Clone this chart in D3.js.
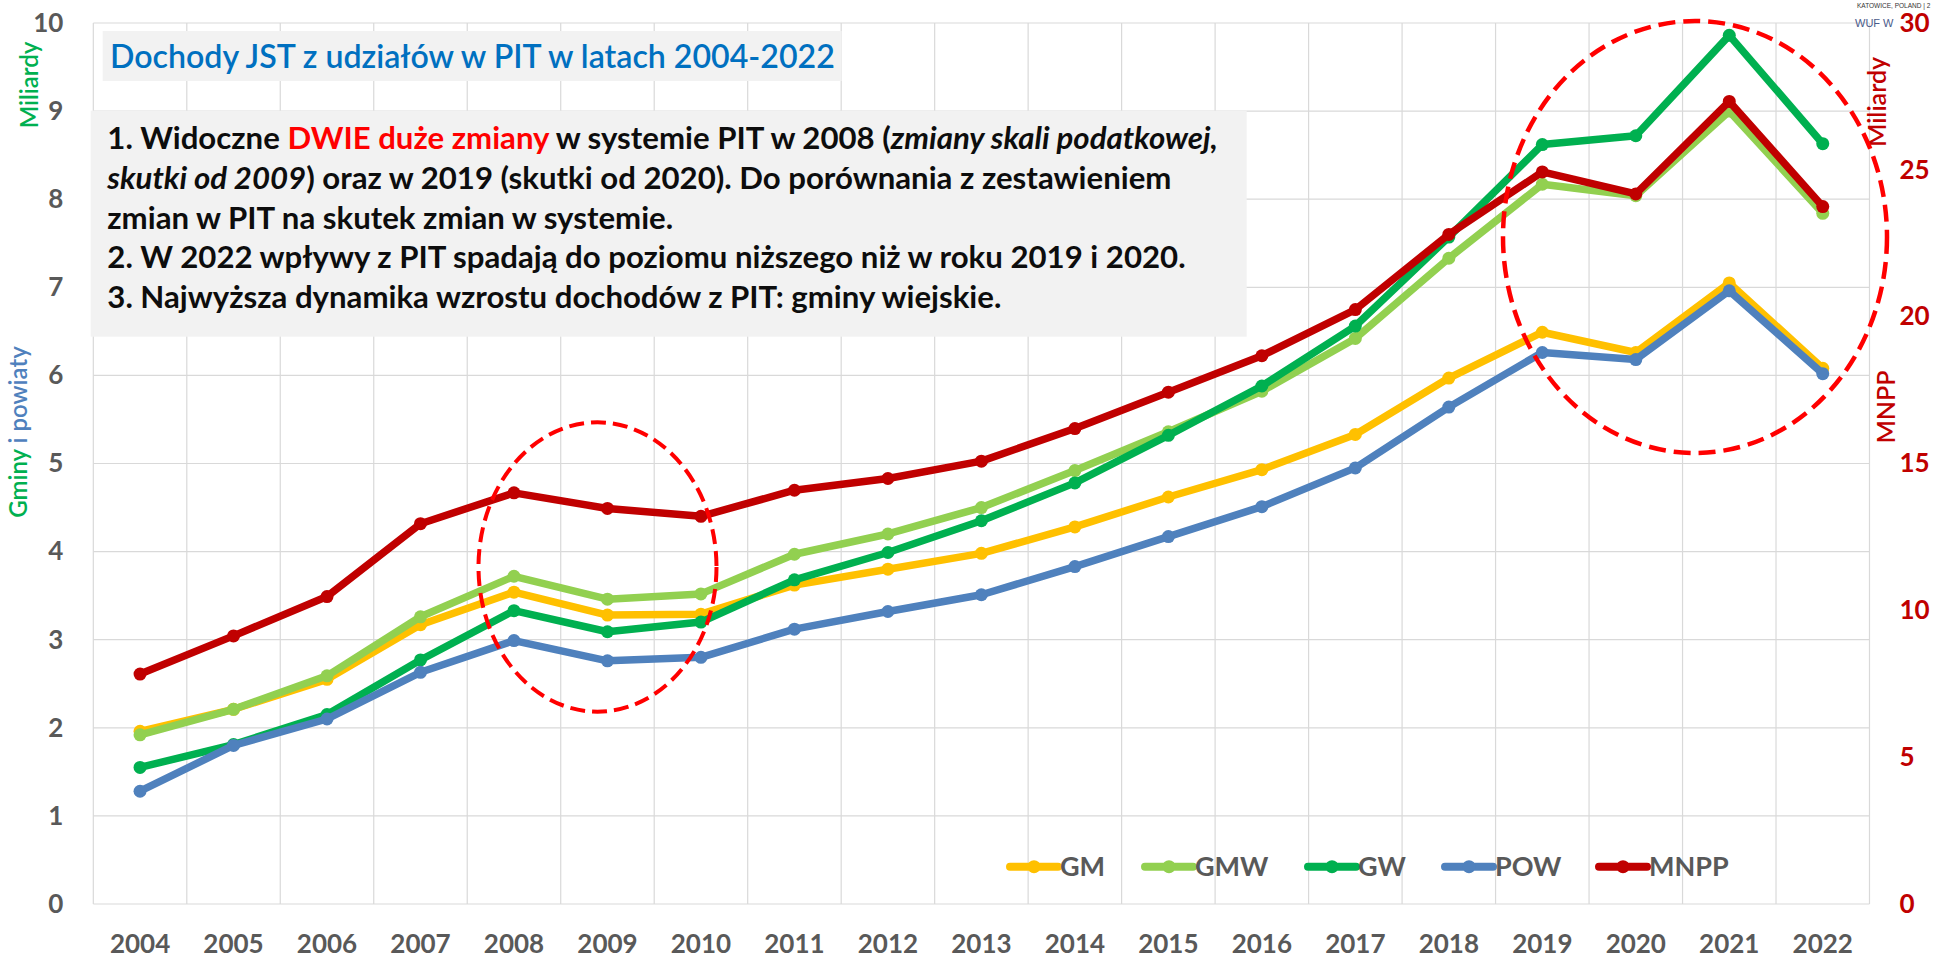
<!DOCTYPE html>
<html>
<head>
<meta charset="utf-8">
<script src="https://cdn.jsdelivr.net/npm/d3@7"></script>
<style>
  html, body { margin: 0; padding: 0; background: #fff; }
  svg { display: block; font-family: Lato, "Open Sans", sans-serif; }
</style>
</head>
<body>
<div id="chart"></div>
<script>
// data
const years = ["2004","2005","2006","2007","2008","2009","2010","2011","2012","2013",
               "2014","2015","2016","2017","2018","2019","2020","2021","2022"];
const gm   = [1.96, 2.21, 2.55, 3.17, 3.54, 3.28, 3.29, 3.62, 3.80, 3.98, 4.28, 4.62, 4.93, 5.33, 5.97, 6.49, 6.26, 7.05, 6.08];
const gmw  = [1.92, 2.21, 2.59, 3.26, 3.72, 3.46, 3.52, 3.97, 4.20, 4.50, 4.92, 5.36, 5.82, 6.42, 7.33, 8.17, 8.04, 9.00, 7.84];
const gw   = [1.55, 1.81, 2.15, 2.77, 3.33, 3.09, 3.20, 3.68, 3.99, 4.35, 4.78, 5.32, 5.88, 6.56, 7.57, 8.62, 8.72, 9.86, 8.63];
const pow  = [1.28, 1.80, 2.10, 2.63, 2.99, 2.76, 2.80, 3.12, 3.32, 3.51, 3.83, 4.17, 4.51, 4.95, 5.64, 6.26, 6.18, 6.96, 6.02];
const mnpp = [7.83, 9.13, 10.47, 12.95, 14.00, 13.47, 13.20, 14.09, 14.49, 15.08, 16.19, 17.43, 18.67, 20.24, 22.80, 24.93, 24.18, 27.33, 23.75];
const seriesNames  = ["GM", "GMW", "GW", "POW", "MNPP"];
const seriesColors = ["#FFC000", "#92D050", "#00B050", "#4F81BD", "#C00000"];
const leftTicks  = [0,1,2,3,4,5,6,7,8,9,10];
const rightTicks = [0,5,10,15,20,25,30];

const W = 1934, H = 960;
const svg = d3.select("#chart").append("svg")
  .attr("width", W).attr("height", H);

const x = d3.scaleBand().domain(years).range([93.3, 1869.5]).padding(0);
const yL = d3.scaleLinear().domain([0, 10]).range([904, 23]);
const yR = d3.scaleLinear().domain([0, 30]).range([904, 23]);

const gray = "#595959";

// grid
const grid = svg.append("g");
grid.selectAll("line.h").data(leftTicks).join("line")
  .attr("x1", x.range()[0]).attr("x2", x.range()[1])
  .attr("y1", d => yL(d)).attr("y2", d => yL(d))
  .attr("stroke", "#D9D9D9").attr("stroke-width", 1.2);
const vlines = years.map(d => x(d)).concat([x.range()[1]]);
grid.selectAll("line.v").data(vlines).join("line")
  .attr("x1", d => d).attr("x2", d => d)
  .attr("y1", yL(10)).attr("y2", yL(0))
  .attr("stroke", "#D9D9D9").attr("stroke-width", 1.2);

// axes
const axL = svg.append("g").attr("transform", `translate(${x.range()[0]},0)`)
  .call(d3.axisLeft(yL).tickValues(leftTicks).tickSize(0).tickPadding(30));
axL.select(".domain").remove();
axL.selectAll("text").attr("font-family", "Lato").attr("font-size", 26)
  .attr("font-weight", 700).attr("fill", gray);

const axR = svg.append("g").attr("transform", `translate(${x.range()[1]},0)`)
  .call(d3.axisRight(yR).tickValues(rightTicks).tickSize(0).tickPadding(30));
axR.select(".domain").remove();
axR.selectAll("text").attr("font-family", "Lato").attr("font-size", 26)
  .attr("font-weight", 700).attr("fill", "#C00000");

const axB = svg.append("g").attr("transform", `translate(0,${yL(0)})`)
  .call(d3.axisBottom(x).tickSize(0).tickPadding(31));
axB.select(".domain").remove();
axB.selectAll("text").attr("font-family", "Lato").attr("font-size", 26)
  .attr("font-weight", 700).attr("fill", gray);

// axis titles
svg.append("text").attr("transform", "translate(38,85) rotate(-90)")
  .attr("text-anchor", "middle").attr("font-size", 24).attr("font-weight", 600)
  .attr("fill", "#00B050").text("Miliardy");
const t2 = svg.append("text").attr("transform", "translate(27,432) rotate(-90)")
  .attr("text-anchor", "middle").attr("font-size", 24).attr("font-weight", 600);
t2.append("tspan").attr("fill", "#00B050").text("Gminy ");
t2.append("tspan").attr("fill", "#4F81BD").text("i powiaty");
svg.append("text").attr("transform", "translate(1886,102) rotate(-90)")
  .attr("text-anchor", "middle").attr("font-size", 25).attr("font-weight", 600)
  .attr("fill", "#C00000").text("Miliardy");
svg.append("text").attr("transform", "translate(1895,407) rotate(-90)")
  .attr("text-anchor", "middle").attr("font-size", 25).attr("font-weight", 600)
  .attr("fill", "#C00000").text("MNPP");

// series
const series = [gm, gmw, gw, pow, mnpp];
series.forEach((vals, i) => {
  const ys = i === 4 ? yR : yL;
  const pts = vals.map((v, j) => [x(years[j]) + x.bandwidth() / 2, ys(v)]);
  const g = svg.append("g");
  g.append("path").datum(pts)
    .attr("fill", "none").attr("stroke", seriesColors[i])
    .attr("stroke-width", 7.5).attr("stroke-linejoin", "round").attr("stroke-linecap", "round")
    .attr("d", d3.line());
  g.selectAll("circle").data(pts).join("circle")
    .attr("cx", d => d[0]).attr("cy", d => d[1]).attr("r", 6.5)
    .attr("fill", seriesColors[i]);
});

// legend
const legendX = [1010, 1145, 1308, 1445, 1599];
const legY = 866.7;
seriesNames.forEach((name, i) => {
  const g = svg.append("g").attr("transform", `translate(${legendX[i]},${legY})`);
  g.append("line").attr("x1", 0).attr("x2", 48)
    .attr("stroke", seriesColors[i]).attr("stroke-width", 8).attr("stroke-linecap", "round");
  g.append("circle").attr("cx", 24).attr("r", 6.5).attr("fill", seriesColors[i]);
  g.append("text").attr("x", 50).attr("dy", "0.36em")
    .attr("font-size", 27).attr("font-weight", 700).attr("fill", gray)
    .text(name);
});

// title box
svg.append("rect").attr("x", 102.7).attr("y", 31).attr("width", 739).attr("height", 50)
  .attr("fill", "#F2F2F2");
const title = svg.append("text").attr("x", 110).attr("y", 67.5)
  .attr("font-size", 32).attr("font-weight", 600).attr("fill", "#0070C0")
  .text("Dochody JST z udziałów w PIT w latach 2004-2022");
fitWidth(title, 725);

// note box
svg.append("rect").attr("x", 90.7).attr("y", 110.7).attr("width", 1156).attr("height", 226)
  .attr("fill", "#F2F2F2");
const lines = [
  [["1. Widoczne ", null], ["DWIE duże zmiany", "red"], [" w systemie PIT w 2008 (", null], ["zmiany skali podatkowej,", "it"]],
  [["skutki od 2009", "it"], [") oraz w 2019 (skutki od 2020). Do porównania z zestawieniem", null]],
  [["zmian w PIT na skutek zmian w systemie.", null]],
  [["2. W 2022 wpływy z PIT spadają do poziomu niższego niż w roku 2019 i 2020.", null]],
  [["3. Najwyższa dynamika wzrostu dochodów z PIT: gminy wiejskie.", null]]
];
const note = svg.append("g").attr("font-size", 27).attr("font-weight", 700);
const noteTexts = lines.map((parts, i) => {
  const t = note.append("text").attr("x", 107.3).attr("y", 149 + i * 39.8).attr("fill", "#0D0D0D");
  parts.forEach(([s, st]) => {
    const sp = t.append("tspan").text(s);
    if (st === "red") sp.attr("fill", "#FF0000");
    if (st === "it") sp.attr("font-style", "italic");
  });
  return t;
});
const l1 = noteTexts[0].node().getComputedTextLength();
note.attr("font-size", 27 * 1111 / l1);

// ellipses
svg.append("ellipse").attr("cx", 597.5).attr("cy", 567).attr("rx", 119).attr("ry", 144.7)
  .attr("fill", "none").attr("stroke", "#FF0000").attr("stroke-width", 4)
  .attr("stroke-dasharray", "15,7");
svg.append("ellipse").attr("cx", 1695).attr("cy", 237).attr("rx", 192).attr("ry", 216)
  .attr("fill", "none").attr("stroke", "#FF0000").attr("stroke-width", 4.5)
  .attr("stroke-dasharray", "17,8");

// tiny watermark top right
svg.append("text").attr("x", 1857).attr("y", 8).attr("font-size", 6.5).attr("fill", "#333")
  .attr("font-family", "Liberation Sans").text("KATOWICE, POLAND | 2");
svg.append("text").attr("x", 1855).attr("y", 27).attr("font-size", 11).attr("fill", "#4a5a8a")
  .attr("font-family", "Liberation Sans").text("WUF W");
axR.raise();

function fitWidth(sel, target) {
  const fs = +sel.attr("font-size");
  const len = sel.node().getComputedTextLength();
  sel.attr("font-size", fs * target / len);
}
</script>
</body>
</html>
